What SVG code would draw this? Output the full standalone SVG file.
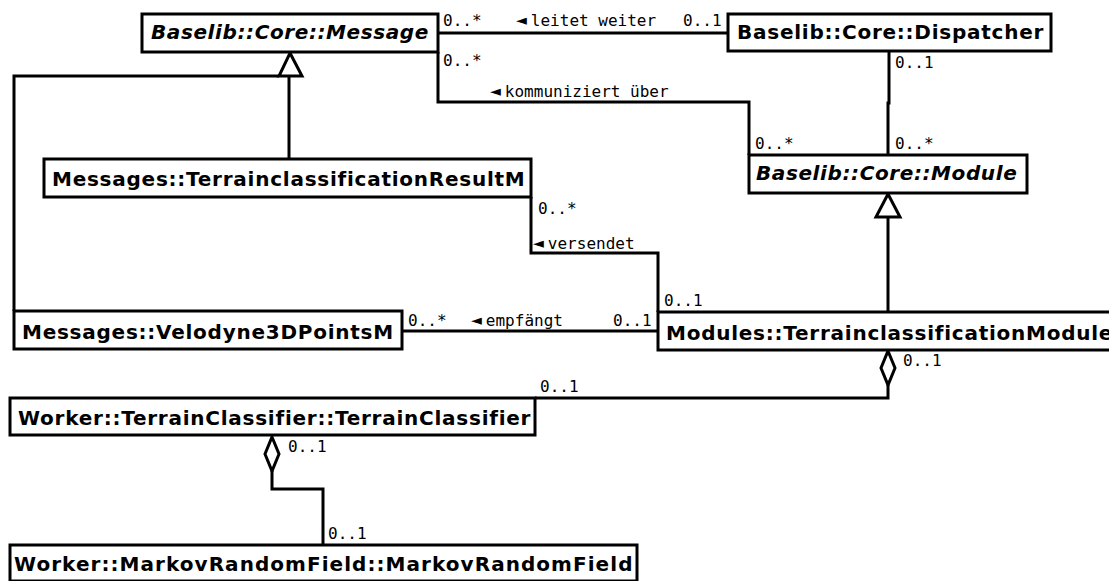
<svg xmlns="http://www.w3.org/2000/svg" width="1109" height="581" viewBox="0 0 1109 581">
  <style>
    .box { fill: #fff; stroke: #000; stroke-width: 3; }
    .name { font-family: "DejaVu Sans", sans-serif; font-weight: bold; font-size: 20px; letter-spacing: 0.75px; fill: #000; }
    .abstract { font-style: italic; letter-spacing: 0.6px; }
    .wide { letter-spacing: 1.05px; }
    .line { fill: none; stroke: #000; stroke-width: 3; }
    .head { fill: #fff; stroke: #000; stroke-width: 3; stroke-linejoin: miter; }
    .lbl { font-family: "DejaVu Sans Mono", monospace; font-size: 16px; fill: #000; }
    .dir { font-size: 18px; }
  </style>
  <rect width="1109" height="581" fill="#fff"/>

  <!-- connectors -->
  <g id="connectors">
    <!-- Message <- Dispatcher -->
    <path class="line" d="M438 33 H728"/>
    <text class="lbl" x="443" y="26">0..*</text>
    <text class="lbl" x="516" y="26"><tspan class="dir">◄</tspan><tspan dx="4">leitet weiter</tspan></text>
    <text class="lbl" x="683" y="26">0..1</text>

    <!-- Message <- Module -->
    <path class="line" d="M438 52 V102 H749 V155"/>
    <text class="lbl" x="443" y="66">0..*</text>
    <text class="lbl" x="490" y="97"><tspan class="dir">◄</tspan><tspan dx="4">kommuniziert über</tspan></text>
    <text class="lbl" x="755" y="149">0..*</text>

    <!-- Dispatcher - Module -->
    <path class="line" d="M889 51 V103 H888 V155"/>
    <text class="lbl" x="895" y="68">0..1</text>
    <text class="lbl" x="895" y="149">0..*</text>

    <!-- generalization to Message -->
    <path class="line" d="M289 76 V159"/>
    <path class="line" d="M279 76 H14 V311"/>
    <path class="head" d="M290 53 L302 76 H279 Z"/>

    <!-- generalization to Module -->
    <path class="line" d="M888 217 V312"/>
    <path class="head" d="M888 194 L900 217 H876 Z"/>

    <!-- ResultM <- TerrainclassificationModule -->
    <path class="line" d="M531 197 V253 H658 V312"/>
    <text class="lbl" x="538" y="214">0..*</text>
    <text class="lbl" x="533" y="249"><tspan class="dir">◄</tspan><tspan dx="4">versendet</tspan></text>
    <text class="lbl" x="664" y="306">0..1</text>

    <!-- Velodyne <- TerrainclassificationModule -->
    <path class="line" d="M402 331 H658"/>
    <text class="lbl" x="408" y="326">0..*</text>
    <text class="lbl" x="471" y="326"><tspan class="dir">◄</tspan><tspan dx="4">empfängt</tspan></text>
    <text class="lbl" x="613" y="326">0..1</text>

    <!-- aggregation: TerrainclassificationModule - TerrainClassifier -->
    <path class="line" d="M888 385 V398 H535"/>
    <path class="head" d="M888 351 L895 368 L888 385 L881 368 Z"/>
    <text class="lbl" x="903" y="366">0..1</text>
    <text class="lbl" x="540" y="392">0..1</text>

    <!-- aggregation: TerrainClassifier - MarkovRandomField -->
    <path class="line" d="M272 471 V489 H323 V545"/>
    <path class="head" d="M272 437 L279 454 L272 471 L265 454 Z"/>
    <text class="lbl" x="288" y="452">0..1</text>
    <text class="lbl" x="328" y="539">0..1</text>
  </g>

  <!-- classes -->
  <g id="message">
    <rect class="box" x="142" y="14" width="296" height="38"/>
    <text class="name abstract" x="151" y="39">Baselib::Core::Message</text>
  </g>
  <g id="dispatcher">
    <rect class="box" x="728" y="14" width="323" height="37"/>
    <text class="name" x="737" y="39">Baselib::Core::Dispatcher</text>
  </g>
  <g id="module">
    <rect class="box" x="749" y="155" width="278" height="38"/>
    <text class="name abstract" x="756" y="180">Baselib::Core::Module</text>
  </g>
  <g id="result-msg">
    <rect class="box" x="44" y="159" width="487" height="38"/>
    <text class="name" x="52" y="186">Messages::TerrainclassificationResultM</text>
  </g>
  <g id="velodyne-msg">
    <rect class="box" x="14" y="311" width="388" height="38"/>
    <text class="name" x="22" y="339">Messages::Velodyne3DPointsM</text>
  </g>
  <g id="terrain-module">
    <rect class="box" x="658" y="312" width="470" height="38"/>
    <text class="name" x="666" y="340">Modules::TerrainclassificationModule</text>
  </g>
  <g id="terrain-classifier">
    <rect class="box" x="10" y="398" width="525" height="37"/>
    <text class="name" x="18" y="425">Worker::TerrainClassifier::TerrainClassifier</text>
  </g>
  <g id="markov-field">
    <rect class="box" x="10" y="545" width="627" height="36"/>
    <text class="name wide" x="14" y="571">Worker::MarkovRandomField::MarkovRandomField</text>
  </g>
</svg>
